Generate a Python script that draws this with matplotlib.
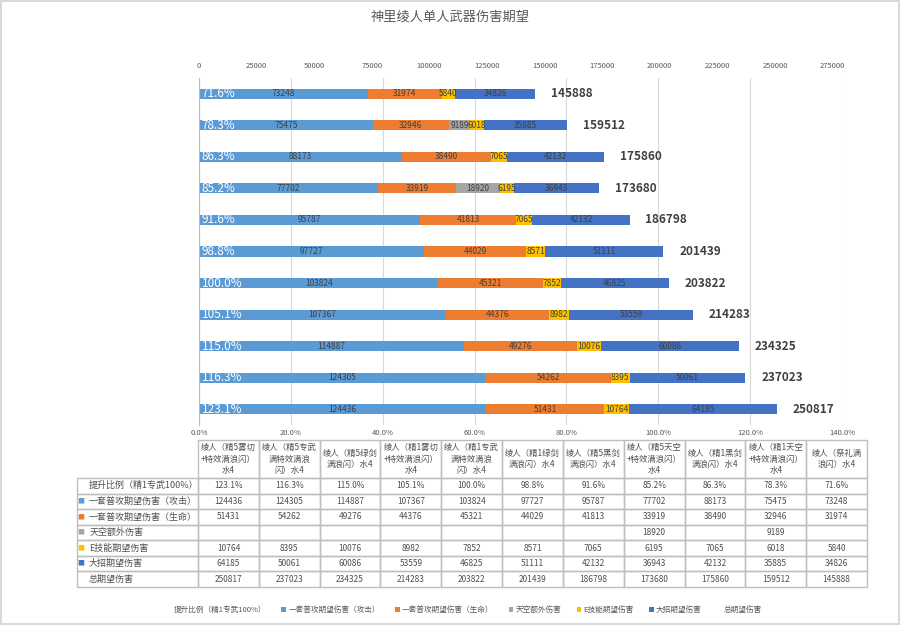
import numpy as np
import matplotlib.pyplot as plt
from matplotlib.patches import Patch
from matplotlib.table import Table

plt.rcParams['font.family'] = ['Noto Sans CJK SC', 'DejaVu Sans']

# bottom -> top order (same as table columns)
categories = [
    '绫人（精5雾切+特效满浪闪）水4',
    '绫人（精5专武满特效满浪闪）水4',
    '绫人（精5绿剑满浪闪）水4',
    '绫人（精1雾切+特效满浪闪）水4',
    '绫人（精1专武满特效满浪闪）水4',
    '绫人（精1绿剑满浪闪）水4',
    '绫人（精5黑剑满浪闪）水4',
    '绫人（精5天空+特效满浪闪）水4',
    '绫人（精1黑剑满浪闪）水4',
    '绫人（精1天空+特效满浪闪）水4',
    '绫人（祭礼满浪闪）水4',
]
table_headers = [
    '绫人（精5雾切\n+特效满浪闪）\n水4',
    '绫人（精5专武\n满特效满浪\n闪）水4',
    '绫人（精5绿剑\n满浪闪）水4',
    '绫人（精1雾切\n+特效满浪闪）\n水4',
    '绫人（精1专武\n满特效满浪\n闪）水4',
    '绫人（精1绿剑\n满浪闪）水4',
    '绫人（精5黑剑\n满浪闪）水4',
    '绫人（精5天空\n+特效满浪闪）\n水4',
    '绫人（精1黑剑\n满浪闪）水4',
    '绫人（精1天空\n+特效满浪闪）\n水4',
    '绫人（祭礼满\n浪闪）水4',
]
ratio = [123.1, 116.3, 115.0, 105.1, 100.0, 98.8, 91.6, 85.2, 86.3, 78.3, 71.6]
atk = [124436, 124305, 114887, 107367, 103824, 97727, 95787, 77702, 88173, 75475, 73248]
hp = [51431, 54262, 49276, 44376, 45321, 44029, 41813, 33919, 38490, 32946, 31974]
sky = [None, None, None, None, None, None, None, 18920, None, 9189, None]
skill_e = [10764, 8395, 10076, 8982, 7852, 8571, 7065, 6195, 7065, 6018, 5840]
burst = [64185, 50061, 60086, 53559, 46825, 51111, 42132, 36943, 42132, 35885, 34826]
total = [250817, 237023, 234325, 214283, 203822, 201439, 186798, 173680, 175860, 159512, 145888]

ratio_name = '提升比例（精1专武100%）'
series_names = ['一套普攻期望伤害（攻击）', '一套普攻期望伤害（生命）', '天空额外伤害',
                'E技能期望伤害', '大招期望伤害']
total_name = '总期望伤害'
colors = ['#5B9BD5', '#ED7D31', '#A5A5A5', '#FFC000', '#4472C4']
series = [atk, hp, sky, skill_e, burst]

W, H = 900, 625
L, R, T, B = 199, 842, 78, 425


def axx(px):
    return (px - L) / (R - L)


def axy(py):
    return (B - py) / (B - T)


fig = plt.figure(figsize=(9, 6.25), dpi=100)
fig.patch.set_edgecolor('#D9D9D9')
fig.patch.set_linewidth(1.5)
ax = fig.add_axes([L / W, 1 - B / H, (R - L) / W, (B - T) / H])
ax2 = ax.twiny()
ax.set_zorder(2)
ax.patch.set_visible(False)
ax2.set_zorder(1)

y = np.arange(len(categories))
left = np.zeros(len(categories))
for vals, col in zip(series, colors):
    v = np.array([0 if x is None else x for x in vals], dtype=float)
    ax.barh(y, v, left=left, height=0.32, color=col)
    for i, x in enumerate(vals):
        if x is not None:
            ax.text(left[i] + x / 2, y[i], str(x), ha='center', va='center',
                    fontsize=6, color='#404040')
    left += v

for i in range(len(categories)):
    ax.annotate(f'{ratio[i]:.1f}%', (0, y[i]), xytext=(2, 0), textcoords='offset points',
                ha='left', va='center', fontsize=8.5, color='white')
    ax.annotate(str(total[i]), (total[i], y[i]), xytext=(11.5, 0), textcoords='offset points',
                ha='left', va='center', fontsize=8.5, color='#404040', fontweight='bold')

ax.set_xlim(0, 279000)
ax.set_ylim(-0.5, len(categories) - 0.5)
ax.xaxis.tick_top()
ax.set_xticks(np.arange(0, 275001, 25000))
ax.tick_params(axis='x', length=0, labelsize=5.5, labelcolor='#595959', pad=6)
ax.set_yticks(y)
ax.set_yticklabels(categories)
ax.tick_params(axis='y', length=0, labelsize=6, labelcolor='#595959', pad=6)
for s in ['top', 'right', 'bottom']:
    ax.spines[s].set_visible(False)
ax.spines['left'].set_color('#BFBFBF')

ax2.set_xlim(0, 1.4)
ax2.xaxis.tick_bottom()
ax2.set_xticks(np.arange(0, 1.41, 0.2))
ax2.set_xticklabels([f'{v * 100:.1f}%' for v in np.arange(0, 1.41, 0.2)])
ax2.tick_params(axis='x', length=0, labelsize=5.5, labelcolor='#595959', pad=3)
ax2.set_yticks([])
ax2.grid(axis='x', color='#D9D9D9', linewidth=0.8)
for s in ax2.spines.values():
    s.set_visible(False)

# data table under the chart
row_labels = [ratio_name] + series_names + [total_name]
rows = [[''] + table_headers,
        [ratio_name] + [f'{v:.1f}%' for v in ratio]]
for name, vals in zip(series_names, series):
    rows.append([name] + ['' if v is None else str(v) for v in vals])
rows.append([total_name] + [str(v) for v in total])

col_w = [121] + [60.8] * len(categories)
row_h = [38] + [15.6] * (len(rows) - 1)
tb = Table(ax, bbox=[axx(77), axy(587), (867 - 77) / (R - L), (587 - 440) / (B - T)])
for r, row in enumerate(rows):
    for c, txt in enumerate(row):
        cell = tb.add_cell(r, c, width=col_w[c], height=row_h[r], text=txt,
                           loc='left' if c == 0 else 'center',
                           edgecolor='#BFBFBF', facecolor='none')
        cell.get_text().set_color('#505050')
        if r == 0:
            cell.get_text().set_linespacing(1.4)
tb[0, 0].set_edgecolor('none')
tb.auto_set_font_size(False)
tb.set_fontsize(6)
for r in range(1, len(rows)):
    tb[r, 0].get_text().set_fontsize(6.5)
ax.add_table(tb)

# colored markers in the table's label column
for k, col in enumerate(colors):
    r = k + 2
    yc = 440 + 38 + 15.6 * (r - 1) + 7.8
    ax.text(axx(81), axy(yc), '■', color=col, fontsize=5, ha='center', va='center',
            transform=ax.transAxes, clip_on=False)

handles = [Patch(facecolor='none', edgecolor='none')]
handles += [Patch(facecolor=c, edgecolor='none') for c in colors]
handles += [Patch(facecolor='none', edgecolor='none')]
fig.legend(handles, row_labels, loc='center', bbox_to_anchor=(0.516, 1 - 610 / H), ncol=7,
           frameon=False, fontsize=5.5, labelcolor='#595959', handlelength=0.6,
           handleheight=0.6, handletextpad=0.3, columnspacing=2.0)

fig.text(0.5, 1 - 17 / H, '神里绫人单人武器伤害期望', ha='center', va='center',
         fontsize=9.5, color='#595959')

fig.savefig('out.png', dpi=100, edgecolor=fig.get_edgecolor())
